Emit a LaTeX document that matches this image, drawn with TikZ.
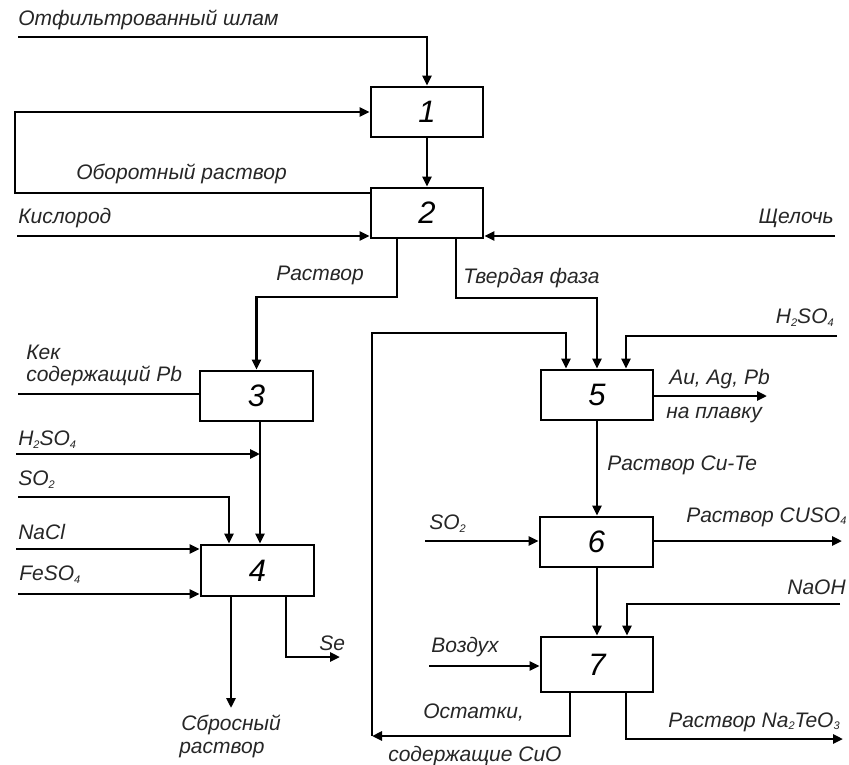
\documentclass[tikz,border=0pt]{standalone}
\usepackage{fontspec}
\setmainfont{Liberation Sans}
\usetikzlibrary{arrows.meta}
\newcommand{\sbs}[1]{\raisebox{-0.25ex}{\fontsize{11}{11}\selectfont #1}}
\begin{document}
\begin{tikzpicture}[x=1pt,y=-1pt,
  line width=2.6pt,
  arr/.style={-{Triangle[length=10pt,width=9pt]}},
  box/.style={draw,line width=2.8pt,minimum width=112pt,minimum height=50pt,inner sep=0pt,font=\fontsize{31}{31}\selectfont\itshape},
  lbl/.style={inner sep=0pt,anchor=west,text=black!85,font=\fontsize{21}{23}\selectfont\itshape},
  lble/.style={lbl,anchor=east}]
\useasboundingbox (0,0) rectangle (849,765);
% boxes
\node[box] (b1) at (427,112) {1};
\node[box] (b2) at (427,213) {2};
\node[box,minimum width=113pt] (b3) at (256.5,396) {3};
\node[box,minimum width=113pt,minimum height=51pt] (b4) at (257.5,570.5) {4};
\node[box] (b5) at (597,395) {5};
\node[box,minimum width=113pt] (b6) at (596.5,542) {6};
\node[box,minimum height=55pt] (b7) at (597,664.5) {7};
% coordinates
\coordinate (c1) at (18,37);
\coordinate (r1) at (15,193);
\coordinate (k) at (17,236);
\coordinate (sh) at (835,236);
\coordinate (p1) at (397,297);
\coordinate (p2) at (456,298);
\coordinate (kek) at (18,394);
\coordinate (h1) at (16,454);
\coordinate (so) at (18,497);
\coordinate (so4) at (229,0);
\coordinate (na) at (16,549);
\coordinate (fe) at (18,594);
\coordinate (sb) at (231,708);
\coordinate (se1) at (286,657);
\coordinate (se2) at (340,657);
\coordinate (o1) at (570,736);
\coordinate (o2) at (372,736);
\coordinate (o3) at (372,333);
\coordinate (o4) at (566,0);
\coordinate (hr) at (837,336);
\coordinate (hr5) at (626,0);
\coordinate (au) at (767,396);
\coordinate (so6) at (425,541);
\coordinate (cu) at (842,541);
\coordinate (naoh) at (840,604);
\coordinate (naoh7) at (627,0);
\coordinate (vz) at (429,666);
\coordinate (te1) at (626,739);
\coordinate (te2) at (843,739);
% connectors
\draw[arr] (c1) -| (b1.north);
\draw[arr] (b2.west |- r1) -- (r1) |- (b1.west);
\draw[arr] (b1.south) -- (b2.north);
\draw[arr] (k) -- (k -| b2.west);
\draw[arr] (sh) -- (sh -| b2.east);
\draw[arr] (p1 |- b2.south) -- (p1) -| (b3.north);
\draw[arr] (p2 |- b2.south) -- (p2) -| (b5.north);
\draw (kek) -- (kek -| b3.west);
\draw[arr] (b3.south -| 260,0) -- (b4.north -| 260,0);
\draw[arr] (h1) -- (h1 -| 260,0);
\draw[arr] (so) -| (so4 |- b4.north);
\draw[arr] (na) -- (na -| b4.west);
\draw[arr] (fe) -- (fe -| b4.west);
\draw[arr] (sb |- b4.south) -- (sb);
\draw[arr] (se1 |- b4.south) -- (se1) -- (se2);
\draw[arr] (o1 |- b7.south) -- (o1) -- (o2);
\draw[arr] (o2) -- (o3) -| (o4 |- b5.north);
\draw[arr] (hr) -| (hr5 |- b5.north);
\draw[arr] (au -| b5.east) -- (au);
\draw[arr] (b5.south) -- (b5.south |- b6.north);
\draw[arr] (so6) -- (so6 -| b6.west);
\draw[arr] (so6 -| b6.east) -- (cu);
\draw[arr] (b6.south -| b7.north) -- (b7.north);
\draw[arr] (naoh) -| (naoh7 |- b7.north);
\draw[arr] (vz) -- (vz -| b7.west);
\draw[arr] (te1 |- b7.south) -- (te1) -- (te2);
% labels
\node[lbl] (t1) at (17,20) {Отфильтрованный шлам};
\node[lbl] (t2) at (75,174) {Оборотный раствор};
\node[lbl] (t3) at (17,218) {Кислород};
\node[lble] (t4) at (835,218) {Щелочь};
\node[lbl] (t5) at (275,275) {Раствор};
\node[lbl] (t6) at (462,278) {Твердая фаза};
\node[lbl] (t7) at (25,352) {Кек};
\node[lbl] (t8) at (25,376) {содержащий Pb};
\node[lbl] (t9) at (17,440) {H\sbs{2}SO\sbs{4}};
\node[lbl] (t10) at (17,480) {SO\sbs{2}};
\node[lbl] (t11) at (17,532) {NaCl};
\node[lbl] (t12) at (18,575) {FeSO\sbs{4}};
\node[lbl] (t13) at (318,643) {Se};
\node[lbl] (t14) at (180,725) {Сбросный};
\node[lbl] (t15) at (178,750) {раствор};
\node[lble] (t16) at (835,318) {H\sbs{2}SO\sbs{4}};
\node[lbl] (t17) at (668,379) {Au, Ag, Pb};
\node[lbl] (t18) at (665,415) {на плавку};
\node[lbl] (t19) at (606,465) {Раствор Cu-Te};
\node[lbl] (t20) at (428,524) {SO\sbs{2}};
\node[lbl] (t21) at (685,517) {Раствор CUSO\sbs{4}};
\node[lble] (t22) at (847,587) {NaOH};
\node[lbl] (t23) at (430,647) {Воздух};
\node[lbl] (t24) at (422,713) {Остатки,};
\node[lbl] (t25) at (387,756) {содержащие CuO};
\node[lbl] (t26) at (667,722) {Раствор Na\sbs{2}TeO\sbs{3}};
\end{tikzpicture}
\end{document}
